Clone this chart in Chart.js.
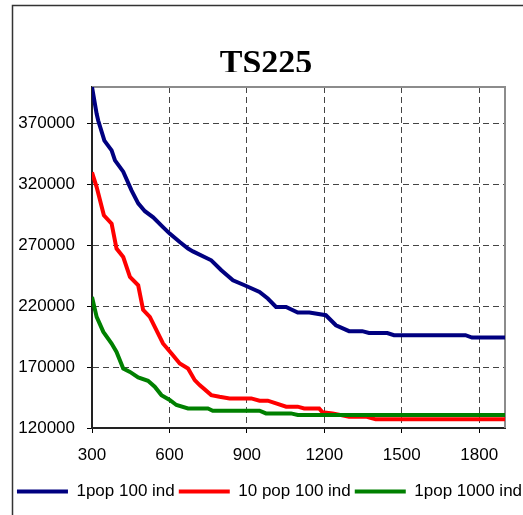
<!DOCTYPE html>
<html><head><meta charset="utf-8">
<script src="https://cdn.jsdelivr.net/npm/chart.js@4/dist/chart.umd.min.js"></script>
<style>html,body{margin:0;padding:0;background:#fff}</style>
</head><body>
<canvas id="c" width="523" height="515" style="display:block;width:523px;height:515px"></canvas>
<script>
const chartTitle = 'TS225';
const seriesNames = ['1pop 100 ind', '10 pop 100 ind', '1pop 1000 ind'];
const seriesColors = ['#000080', '#FF0000', '#008000'];

const xTicks = [300, 600, 900, 1200, 1500, 1800];
const yTicks = [120000, 170000, 220000, 270000, 320000, 370000];

const pop1ind100X = [300, 318, 324, 348, 376, 389, 421, 453, 479, 505, 537, 575, 601, 640, 672, 691, 762, 801, 846, 891, 949, 981, 1013, 1052, 1097, 1142, 1206, 1245, 1296, 1347, 1373, 1444, 1470, 1747, 1772, 1900];
const pop1ind100Y = [400000, 378000, 372500, 356000, 348000, 339700, 330500, 315100, 304400, 298000, 293000, 285000, 279600, 272700, 267300, 265000, 257700, 249500, 241300, 237200, 231700, 226300, 219400, 219400, 214800, 214800, 212600, 204400, 199500, 199500, 198000, 198000, 196200, 196200, 194300, 194300];

const pop10ind100X = [300, 318, 346, 376, 395, 421, 447, 479, 498, 524, 575, 608, 640, 672, 698, 717, 762, 794, 833, 917, 949, 981, 1013, 1052, 1097, 1122, 1180, 1193, 1232, 1296, 1361, 1399, 1900];
const pop10ind100Y = [330000, 317800, 294600, 287800, 267300, 260400, 244000, 237200, 217000, 211200, 189400, 181200, 173000, 168900, 159300, 155200, 147000, 145600, 144300, 144300, 142400, 142400, 140200, 137500, 137500, 136100, 136100, 132900, 132000, 129300, 129300, 127100, 127100];

const pop1ind1000X = [300, 318, 344, 376, 395, 421, 447, 479, 517, 543, 569, 601, 627, 672, 749, 768, 949, 974, 1071, 1097, 1900];
const pop1ind1000Y = [227600, 211200, 198900, 189400, 182500, 168900, 166100, 161600, 158800, 153900, 147000, 143000, 138900, 136100, 136100, 134200, 134200, 132000, 132000, 130700, 130700];

const toPts = (xs, ys) => xs.map((x, i) => ({x: x, y: ys[i]}));
const seriesData = [toPts(pop1ind100X, pop1ind100Y), toPts(pop10ind100X, pop10ind100Y), toPts(pop1ind1000X, pop1ind1000Y)];

const framePlugin = {
  id: 'frame',
  afterLayout(chart) {
    if (chart.legend) { chart.legend.left = 9; chart.legend.right = 530; }
  },
  beforeDraw(chart) {
    const ctx = chart.ctx;
    ctx.save();
    ctx.fillStyle = '#fff';
    ctx.fillRect(0, 0, chart.width, chart.height);
    ctx.strokeStyle = '#333';
    ctx.lineWidth = 1.5;
    ctx.strokeRect(12.5, 5.5, 700, 700);
    ctx.restore();
  },
  beforeDatasetsDraw(chart) {
    const a = chart.chartArea, ctx = chart.ctx;
    ctx.save();
    ctx.strokeStyle = '#8c8c8c';
    ctx.lineWidth = 2;
    ctx.beginPath();
    ctx.moveTo(a.left, a.top);
    ctx.lineTo(a.right, a.top);
    ctx.lineTo(a.right, a.bottom);
    ctx.stroke();
    ctx.restore();
  },
  afterDraw(chart) {
    const ctx = chart.ctx;
    ctx.save();
    ctx.beginPath();
    ctx.rect(0, 0, chart.width, 72);
    ctx.clip();
    ctx.font = 'bold 34px "Liberation Serif"';
    ctx.fillStyle = '#000';
    ctx.textAlign = 'center';
    ctx.textBaseline = 'alphabetic';
    ctx.fillText(chartTitle, 266, 73);
    ctx.restore();
  }
};

Chart.defaults.font.family = '"Liberation Sans", Arial, sans-serif';
Chart.defaults.color = '#000';

new Chart(document.getElementById('c'), {
  type: 'line',
  data: {
    datasets: seriesNames.map((n, i) => ({
      label: n,
      data: seriesData[i],
      borderColor: seriesColors[i],
      backgroundColor: seriesColors[i],
      borderWidth: 4,
      pointRadius: 0,
      tension: 0,
      fill: false,
      order: 3 - i
    }))
  },
  options: {
    responsive: false,
    animation: false,
    devicePixelRatio: 1,
    layout: {padding: {left: 0, top: 87, right: 0, bottom: 5}},
    plugins: {
      title: {display: false},
      tooltip: {enabled: false},
      legend: {
        position: 'bottom',
        labels: {
          font: {size: 17},
          color: '#000',
          boxWidth: 51,
          boxHeight: 4,
          padding: 4,
          sort: (a, b) => a.datasetIndex - b.datasetIndex,
          generateLabels(chart) {
            return Chart.defaults.plugins.legend.labels.generateLabels(chart).map(it => {
              it.lineWidth = 0;
              it.fillStyle = it.strokeStyle;
              return it;
            });
          }
        }
      }
    },
    scales: {
      x: {
        type: 'linear',
        min: 300, max: 1900,
        afterBuildTicks: s => { s.ticks = xTicks.map(v => ({value: v})); },
        afterFit: s => { s.height = 515 - 5 - 428 - (s.chart.legend ? s.chart.legend.height : 31); },
        ticks: {font: {size: 17}, color: '#000', padding: 12, maxRotation: 0, autoSkip: false, callback: v => String(v)},
        grid: {color: '#444', lineWidth: 1, tickLength: 5, tickColor: '#000', tickWidth: 1},
        border: {color: '#222', width: 2, dash: [6, 4]}
      },
      y: {
        type: 'linear',
        min: 120000, max: 400000,
        afterBuildTicks: s => { s.ticks = yTicks.map(v => ({value: v})); },
        afterFit: s => { s.width = 92; },
        ticks: {font: {size: 17}, color: '#000', padding: 12, autoSkip: false, callback: v => String(v)},
        grid: {color: '#444', lineWidth: 1, tickLength: 5, tickColor: '#000', tickWidth: 1},
        border: {color: '#222', width: 2, dash: [6, 4]}
      },
      yRight: {
        type: 'linear',
        position: 'right',
        min: 120000, max: 400000,
        afterFit: s => { s.width = 18; },
        ticks: {display: false},
        grid: {display: false, drawTicks: false},
        border: {display: false}
      }
    }
  },
  plugins: [framePlugin]
});
</script>
</body></html>
